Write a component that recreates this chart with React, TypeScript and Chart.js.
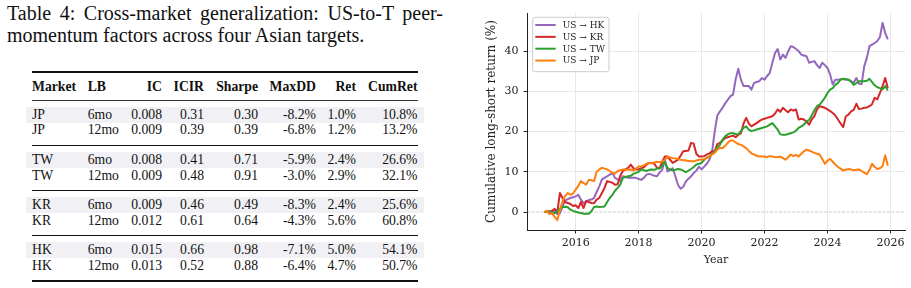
import React, { useEffect, useRef } from "react";
import { Chart, registerables } from "chart.js";

Chart.register(...registerables);

// ---------- chart data (monthly, starting Jan 2015) ----------
const START_YEAR = 2015;
const MONTHS_PER_YEAR = 12;

const HK = [
  0, 0, 0.1, 0.2, 0.1, -0.5, -0.3, 1.4, 2.9, 3.2, 3.5, 3.7,
  3.9, 4.3, 3.1, 2.25, 2.5, 3, 3.1, 3.5, 5, 6.4, 8.1, 8.5,
  8.9, 9.3, 9.75, 8.5, 8.1, 7.7, 8.9, 8.7, 8.5, 8.5, 8.5, 8.5,
  8.2, 8, 8.5, 9.3, 9.5, 9.3, 9, 8.9, 9.8, 10.5, 13, 10.1,
  10.5, 10.9, 8.9, 6.8, 5.8, 6.3, 7.6, 8.3, 8.9, 9.7, 10.3, 11.3,
  10.6, 11.3, 12, 13, 15, 20, 24, 25, 25.9, 27, 27.9, 28.8,
  29.2, 33, 35.6, 32.9, 31.3, 31.3, 31.3, 30.4, 32.1, 32.3, 32.5, 33.3,
  32.9, 33.8, 34.6, 37.1, 39.5, 40.5, 37.9, 39.1, 38.3, 39.9, 41.2, 41,
  40.5, 40, 39.1, 38.9, 38.7, 37.1, 37.3, 37.5, 36.5, 35.8, 37.1, 36.5,
  35.8, 34.2, 31.7, 32.9, 32.9, 33, 33, 32.9, 32.9, 32.5, 32.1, 33.3,
  31.9, 31.8, 36.2, 38.3, 41.2, 41.6, 42, 42.5, 43.5, 47, 44.5, 42.9,
];

const KR = [
  0, 0.1, 0.2, 0.3, 0.8, 0, 4.75, 3.5, 2.5, 2.25, 2, 1.5,
  1.7, 1.0, 2.5, 1.0, 2.8, 2.5, 2.25, 2.2, 3.1, 3.5, 4.75, 6,
  7.7, 7.5, 7.3, 6.8, 6.9, 9, 10.2, 10.6, 11, 11.8, 10.9, 10.6,
  10.6, 10.9, 11.1, 11.8, 12.2, 12.2, 12, 11, 10.9, 12.5, 13.8, 13.8,
  13, 12.2, 12.6, 13, 14, 15.1, 15.2, 15.3, 17.2, 17, 14.5, 13.8,
  13.8, 13.9, 14.3, 14.6, 15.1, 15.1, 16.9, 17.2, 17.8, 18.4, 18.6, 18.8,
  19, 18.6, 19.2, 19.6, 22, 23.4, 22, 21.3, 21.7, 22.1, 22.6, 23,
  23.2, 23.4, 23.6, 23.8, 24.5, 25.5, 24.9, 25.9, 25.3, 24.8, 25.5, 25.2,
  25.5, 23, 23.2, 23, 22.5, 21.7, 23, 23.8, 25.5, 26.3, 26.1, 25.9,
  25.5, 25.1, 24.6, 24, 23, 22, 21.1, 23.8, 24.2, 25, 25.4, 26.9,
  25.6, 25.7, 25.9, 26, 26.3, 26.8, 28.4, 28, 29.6, 31.3, 33.3, 30.8,
];

const TW = [
  0, 0.2, 0.1, -0.2, -0.3, 0.3, 0.8, 1.25, 1.3, 1.2, 0.6, 0.3,
  0.1, -0.1, -0.2, -0.4, -0.4, -0.4, 0.2, 1.25, 1.4, 1.25, 1.3, 1.4,
  2.5, 3.5, 4.3, 5.3, 6, 6.8, 8.5, 8.7, 8.9, 9, 9.5, 9.75,
  10, 10.6, 10.4, 10.2, 10.5, 10.6, 10.5, 10.8, 10.8, 11.5, 12.5, 11,
  10.5, 10.4, 10.5, 10.7, 10.6, 10.3, 9.9, 10.3, 10.7, 11.2, 11.8, 12,
  12.2, 13, 13.5, 13.8, 14.5, 15.1, 16, 16.7, 18, 18.8, 19.3, 19.6,
  19.6, 19.4, 19.3, 20.1, 20.9, 21.3, 20.5, 20.1, 20.3, 20.5, 20.7, 20.9,
  21.1, 21.3, 21.7, 22.1, 21.3, 20.5, 19.3, 19.2, 19.2, 19.4, 19.6, 19.8,
  20.2, 20.9, 21.3, 21.7, 22.5, 22.9, 24, 25.3, 26.3, 26.7, 27.5, 28.4,
  29.6, 30.4, 30.8, 31.6, 32.1, 32.9, 33.1, 33, 32.9, 32.4, 31.6, 32,
  32.5, 32.5, 32.5, 32.6, 33.1, 32.3, 31.5, 31, 30.8, 30.5, 31.3, 30.2,
];

const JP = [
  0, 0.3, -0.5, -0.3, -1.2, -2, 0.5, 2.7, 4, 4.75, 4.3, 4.6,
  5.6, 6.5, 7.7, 7.2, 6.8, 8, 7.9, 7.7, 10, 10.6, 11, 10.8,
  10.6, 10.2, 9.75, 9.6, 10.2, 10.4, 10.6, 10.6, 10.5, 10.6, 10.3, 10.8,
  11.3, 11.4, 11.6, 12, 12.2, 12.1, 12.3, 12.5, 12.4, 12.6, 13, 13.8,
  13.6, 13.4, 13.3, 13.2, 13, 12.9, 12.8, 12.7, 12.6, 12.6, 12.8, 13,
  13, 13.2, 13.4, 13.8, 14.3, 14.7, 15.5, 16, 15.9, 16.5, 17.2, 17.8,
  17.8, 17.3, 16.9, 16.7, 16.3, 15.9, 15.2, 14.6, 14.3, 14, 13.8, 13.8,
  13.8, 13.7, 13.9, 13.8, 13.6, 13.7, 13.8, 13.4, 13, 13.6, 14.3, 13.9,
  14.2, 13.8, 14.5, 15.1, 15.5, 15.3, 15, 14.7, 14.5, 14.3, 13.2, 12,
  12.8, 13.2, 12.5, 11.8, 11.2, 10.8, 10.3, 10.5, 10.7, 10.6, 10.4, 10.5,
  10.6, 10.2, 9.8, 9.4, 10.5, 12, 11.2, 10.7, 10.9, 11.4, 14.1, 11.5,
];

const SERIES_LABELS = ["US \u2192 HK", "US \u2192 KR", "US \u2192 TW", "US \u2192 JP"];
const SERIES_COLORS = ["#9467bd", "#d62728", "#2ca02c", "#ff7f0e"];
const SERIES_VALUES = [HK, KR, TW, JP];

const X_TICKS = [2016, 2018, 2020, 2022, 2024, 2026];
const Y_TICKS = [0, 10, 20, 30, 40];
const X_TITLE = "Year";
const Y_TITLE = "Cumulative long-short return (%)";

// ---------- table data ----------
const CAPTION_LINE1 = "Table 4: Cross-market generalization: US-to-T peer-";
const CAPTION_LINE2 = "momentum factors across four Asian targets.";
const TABLE_HEADERS = ["Market", "LB", "IC", "ICIR", "Sharpe", "MaxDD", "Ret", "CumRet"];
const TABLE_MARKET = ["JP", "JP", "TW", "TW", "KR", "KR", "HK", "HK"];
const TABLE_LB = ["6mo", "12mo", "6mo", "12mo", "6mo", "12mo", "6mo", "12mo"];
const TABLE_IC = [0.008, 0.009, 0.008, 0.009, 0.009, 0.012, 0.015, 0.013];
const TABLE_ICIR = [0.31, 0.39, 0.41, 0.48, 0.46, 0.61, 0.66, 0.52];
const TABLE_SHARPE = [0.3, 0.39, 0.71, 0.91, 0.49, 0.64, 0.98, 0.88];
const TABLE_MAXDD = [-8.2, -6.8, -5.9, -3.0, -8.3, -4.3, -7.1, -6.4];
const TABLE_RET = [1.0, 1.2, 2.4, 2.9, 2.4, 5.6, 5.0, 4.7];
const TABLE_CUMRET = [10.8, 13.2, 26.6, 32.1, 25.6, 60.8, 54.1, 50.7];

const pct = (v: number) => v.toFixed(1) + "%";

const TABLE_COLUMNS: { values: string[]; x: number; align: "left" | "right" }[] = [
  { values: TABLE_MARKET, x: 32, align: "left" },
  { values: TABLE_LB, x: 87.7, align: "left" },
  { values: TABLE_IC.map((v) => v.toFixed(3)), x: 162, align: "right" },
  { values: TABLE_ICIR.map((v) => v.toFixed(2)), x: 204, align: "right" },
  { values: TABLE_SHARPE.map((v) => v.toFixed(2)), x: 258, align: "right" },
  { values: TABLE_MAXDD.map(pct), x: 316, align: "right" },
  { values: TABLE_RET.map(pct), x: 356, align: "right" },
  { values: TABLE_CUMRET.map(pct), x: 417.5, align: "right" },
];

const SERIF_TABLE = '"Liberation Serif", "Times New Roman", serif';
const SERIF_CHART = '"DejaVu Serif", serif';

function Cell(props: { text: string; x: number; cy: number; align: "left" | "right"; bold?: boolean }) {
  const { text, x, cy, align, bold } = props;
  const style: React.CSSProperties = {
    position: "absolute",
    top: cy - 8,
    height: 16,
    lineHeight: "16px",
    fontSize: 13.7,
    fontWeight: bold ? 700 : 400,
    whiteSpace: "nowrap",
    color: "#111",
  };
  if (align === "left") {
    style.left = x;
  } else {
    style.left = x - 120;
    style.width = 120;
    style.textAlign = "right";
  }
  return <div style={style}>{text}</div>;
}

function Rule(props: { y: number; h: number; c?: string }) {
  return (
    <div
      style={{
        position: "absolute",
        left: 31.7,
        width: 386.5,
        top: props.y - props.h / 2,
        height: props.h,
        background: props.c || "#111",
      }}
    />
  );
}

function ResultsTable() {
  const headerY = 86.7;
  const groupRules = [100.3, 145.7, 190.7, 235.7];
  const items: React.ReactNode[] = [];
  groupRules.forEach((ry, g) => {
    items.push(
      <div
        key={"shade" + g}
        style={{
          position: "absolute",
          left: 26,
          width: 398,
          top: ry + 6.7,
          height: 15.7,
          background: "#f1f1f5",
        }}
      />
    );
    items.push(<Rule key={"rule" + g} y={ry} h={g === 0 ? 0.8 : 1} c={g === 0 ? "#333" : "#111"} />);
  });
  TABLE_HEADERS.forEach((h, c) => {
    const col = TABLE_COLUMNS[c];
    items.push(<Cell key={"h" + c} text={h} x={col.x} cy={headerY} align={col.align} bold />);
  });
  TABLE_MARKET.forEach((_, r) => {
    const g = Math.floor(r / 2);
    const cy = groupRules[g] + (r % 2 === 0 ? 14.6 : 30.1);
    TABLE_COLUMNS.forEach((col, c) => {
      items.push(<Cell key={"c" + r + "_" + c} text={col.values[r]} x={col.x} cy={cy} align={col.align} />);
    });
  });
  return (
    <div style={{ position: "absolute", left: 0, top: 0, width: 460, height: 288, fontFamily: SERIF_TABLE }}>
      <div
        style={{
          position: "absolute",
          left: 7,
          top: 2.3,
          width: 436,
          fontSize: 20,
          lineHeight: "22px",
          color: "#111",
        }}
      >
        <div style={{ textAlign: "justify", textAlignLast: "justify", whiteSpace: "nowrap" }}>{CAPTION_LINE1}</div>
        <div style={{ whiteSpace: "nowrap" }}>{CAPTION_LINE2}</div>
      </div>
      <Rule y={72} h={1.3} />
      {items}
      <Rule y={281} h={1.4} />
    </div>
  );
}

function CumulativeChart() {
  const canvasRef = useRef<HTMLCanvasElement | null>(null);

  useEffect(() => {
    const canvas = canvasRef.current;
    if (!canvas) return;

    const xs = SERIES_VALUES[0].map((_, i) => START_YEAR + i / MONTHS_PER_YEAR);
    const xLo = xs[0];
    const xHi = xs[xs.length - 1];
    const allY = SERIES_VALUES.flat();
    const yLo = Math.min(...allY);
    const yHi = Math.max(...allY);
    const xPad = (xHi - xLo) * 0.05;
    const yPad = (yHi - yLo) * 0.05;

    const zeroLine = {
      id: "zeroLine",
      beforeDatasetsDraw(chart: any) {
        const { ctx, chartArea, scales } = chart;
        const y = scales.y.getPixelForValue(0);
        ctx.save();
        ctx.strokeStyle = "rgba(128,128,128,0.5)";
        ctx.lineWidth = 0.8;
        ctx.setLineDash([3, 1.5]);
        ctx.beginPath();
        ctx.moveTo(chartArea.left, y);
        ctx.lineTo(chartArea.right, y);
        ctx.stroke();
        ctx.restore();
      },
    };

    const boxLegend = {
      id: "boxLegend",
      afterDatasetsDraw(chart: any) {
        const { ctx, chartArea } = chart;
        const bx = chartArea.left + 5.7;
        const by = chartArea.top + 4.3;
        const bw = 76.3;
        const bh = 54.4;
        const r = 2.5;
        ctx.save();
        ctx.beginPath();
        ctx.moveTo(bx + r, by);
        ctx.lineTo(bx + bw - r, by);
        ctx.arcTo(bx + bw, by, bx + bw, by + r, r);
        ctx.lineTo(bx + bw, by + bh - r);
        ctx.arcTo(bx + bw, by + bh, bx + bw - r, by + bh, r);
        ctx.lineTo(bx + r, by + bh);
        ctx.arcTo(bx, by + bh, bx, by + bh - r, r);
        ctx.lineTo(bx, by + r);
        ctx.arcTo(bx, by, bx + r, by, r);
        ctx.closePath();
        ctx.fillStyle = "rgba(255,255,255,0.8)";
        ctx.fill();
        ctx.strokeStyle = "#cccccc";
        ctx.lineWidth = 1;
        ctx.stroke();
        ctx.font = "9px " + SERIF_CHART;
        ctx.textBaseline = "middle";
        ctx.textAlign = "left";
        SERIES_LABELS.forEach((label, i) => {
          const cy = chartArea.top + 12 + i * 11.85;
          ctx.strokeStyle = SERIES_COLORS[i];
          ctx.lineWidth = 2;
          ctx.beginPath();
          ctx.moveTo(bx + 2.6, cy);
          ctx.lineTo(bx + 23, cy);
          ctx.stroke();
          ctx.fillStyle = "#222";
          ctx.fillText(label, bx + 30, cy + 0.5);
        });
        ctx.restore();
      },
    };

    const tickFont = { family: SERIF_CHART, size: 11 };
    const yTitleFont = { family: SERIF_CHART, size: 12 };

    const chart = new Chart(canvas, {
      type: "line",
      data: {
        datasets: SERIES_VALUES.map((vals, i) => ({
          label: SERIES_LABELS[i],
          data: vals.map((v, j) => ({ x: xs[j], y: v })),
          borderColor: SERIES_COLORS[i],
          backgroundColor: SERIES_COLORS[i],
          borderWidth: 2,
          pointRadius: 0,
          tension: 0,
          fill: false,
          borderJoinStyle: "round" as const,
          order: SERIES_VALUES.length - 1 - i,
        })),
      },
      options: {
        animation: false,
        responsive: false,
        devicePixelRatio: 1,
        layout: { padding: { left: 0, right: 6, top: 13, bottom: 0 } },
        plugins: {
          legend: { display: false },
          tooltip: { enabled: false },
        },
        scales: {
          x: {
            type: "linear",
            min: xLo - xPad,
            max: xHi + xPad,
            afterBuildTicks: (scale: any) => {
              scale.ticks = X_TICKS.map((value) => ({ value }));
            },
            afterFit: (scale: any) => {
              scale.height = 58;
            },
            ticks: {
              callback: (v: any) => String(v),
              font: tickFont,
              color: "#222",
              padding: 3,
              maxRotation: 0,
              autoSkip: false,
            },
            grid: {
              color: "#e8e8e8",
              lineWidth: 1,
              tickColor: "#222",
              tickLength: 3.5,
              tickWidth: 1,
            },
            border: { display: true, color: "#222", width: 1 },
            title: {
              display: true,
              text: X_TITLE,
              font: tickFont,
              color: "#222",
              padding: { top: 0, bottom: 21 },
            },
          },
          y: {
            type: "linear",
            min: yLo - yPad,
            max: yHi + yPad,
            afterBuildTicks: (scale: any) => {
              scale.ticks = Y_TICKS.map((value) => ({ value }));
            },
            afterFit: (scale: any) => {
              scale.width = 57;
            },
            ticks: {
              font: tickFont,
              color: "#222",
              padding: 5,
            },
            grid: {
              color: (ctx: any) => (ctx.tick && ctx.tick.value === 0 ? "rgba(0,0,0,0)" : "#e8e8e8"),
              lineWidth: 1,
              tickColor: "#222",
              tickLength: 3.5,
              tickWidth: 1,
            },
            border: { display: true, color: "#222", width: 1 },
            title: {
              display: true,
              text: Y_TITLE,
              font: yTitleFont,
              color: "#222",
              padding: { top: 14.5, bottom: 0 },
            },
          },
        },
      },
      plugins: [zeroLine, boxLegend],
    });

    return () => {
      chart.destroy();
    };
  }, []);

  return (
    <div style={{ position: "absolute", left: 470, top: 0, width: 441, height: 288 }}>
      <canvas ref={canvasRef} width={441} height={288} style={{ display: "block", width: 441, height: 288 }} />
    </div>
  );
}

export default function App() {
  return (
    <div
      style={{
        position: "absolute",
        left: 0,
        top: 0,
        width: 911,
        height: 288,
        background: "#ffffff",
        overflow: "hidden",
      }}
    >
      <ResultsTable />
      <CumulativeChart />
    </div>
  );
}
